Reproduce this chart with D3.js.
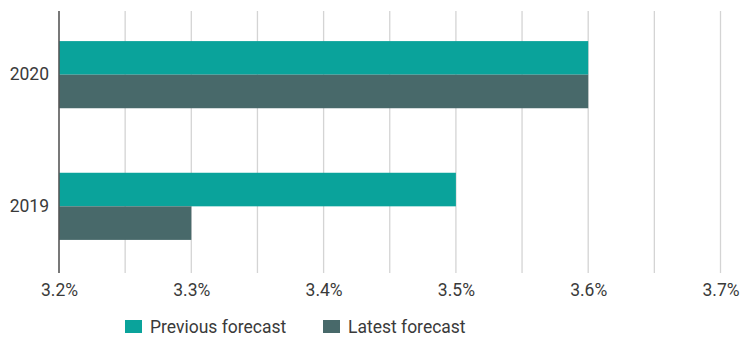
<!DOCTYPE html>
<html><head><meta charset="utf-8">
<script src="https://cdn.jsdelivr.net/npm/d3@7"></script>
<style>body{margin:0;background:#fff}svg{display:block}</style>
</head><body>
<script>
const categories = ["2020", "2019"];
const seriesNames = ["Previous forecast", "Latest forecast"];
const previousForecast = [3.6, 3.5];
const latestForecast = [3.6, 3.3];
const tickValues = [3.2, 3.3, 3.4, 3.5, 3.6, 3.7];
const gridValues = [3.2, 3.25, 3.3, 3.35, 3.4, 3.45, 3.5, 3.55, 3.6, 3.65, 3.7];
const colors = ["#0aa39b", "#48696a"];

const W = 741, H = 338;
const FONT = "Roboto, sans-serif";
const TEXT = "#3a3a3a";
const svg = d3.select("body").append("svg").attr("width", W).attr("height", H)
  .style("font-family", FONT);

const x = d3.scaleLinear().domain([3.2, 3.7]).range([59, 720.5]);
const y = d3.scaleBand().domain(categories).range([9.5, 271.5]).paddingInner(0.49).paddingOuter(0.24);
const sub = d3.scaleBand().domain(seriesNames).range([0, y.bandwidth()]);

svg.append("g").selectAll("line").data(gridValues).join("line")
  .attr("x1", d => x(d)).attr("x2", d => x(d)).attr("y1", 11).attr("y2", 273)
  .attr("stroke", "#d4d4d4").attr("stroke-width", 1.3);

const series = [previousForecast, latestForecast];
series.forEach((vals, si) => {
  svg.append("g").selectAll("rect").data(categories).join("rect")
    .attr("x", x(3.2))
    .attr("y", (c) => y(c) + sub(seriesNames[si]))
    .attr("width", (c, i) => x(vals[i]) - x(3.2))
    .attr("height", sub.bandwidth())
    .attr("fill", colors[si]);
});

svg.append("line").attr("x1", x(3.2)).attr("x2", x(3.2)).attr("y1", 11).attr("y2", 273)
  .attr("stroke", "#555").attr("stroke-width", 1.5);

const xAxis = svg.append("g").attr("transform", "translate(0,273)")
  .call(d3.axisBottom(x).tickValues(tickValues).tickFormat(d => d3.format(".1f")(d) + "%").tickSize(0).tickPadding(11));
xAxis.select(".domain").remove();
xAxis.selectAll("text").attr("font-size", 17.5).attr("fill", TEXT).style("font-family", FONT);

const yAxis = svg.append("g").attr("transform", "translate(59,0)")
  .call(d3.axisLeft(y).tickSize(0).tickPadding(10));
yAxis.select(".domain").remove();
yAxis.selectAll("text").attr("font-size", 17.5).attr("fill", TEXT).style("font-family", FONT);

const legendX = [125, 323];
const lg = svg.append("g");
seriesNames.forEach((n, i) => {
  lg.append("rect").attr("x", legendX[i]).attr("y", 320).attr("width", 17).attr("height", 13).attr("fill", colors[i]);
  lg.append("text").attr("x", legendX[i] + 25).attr("y", 333).attr("font-size", 17.5).attr("fill", TEXT).text(n);
});
</script>
</body></html>
